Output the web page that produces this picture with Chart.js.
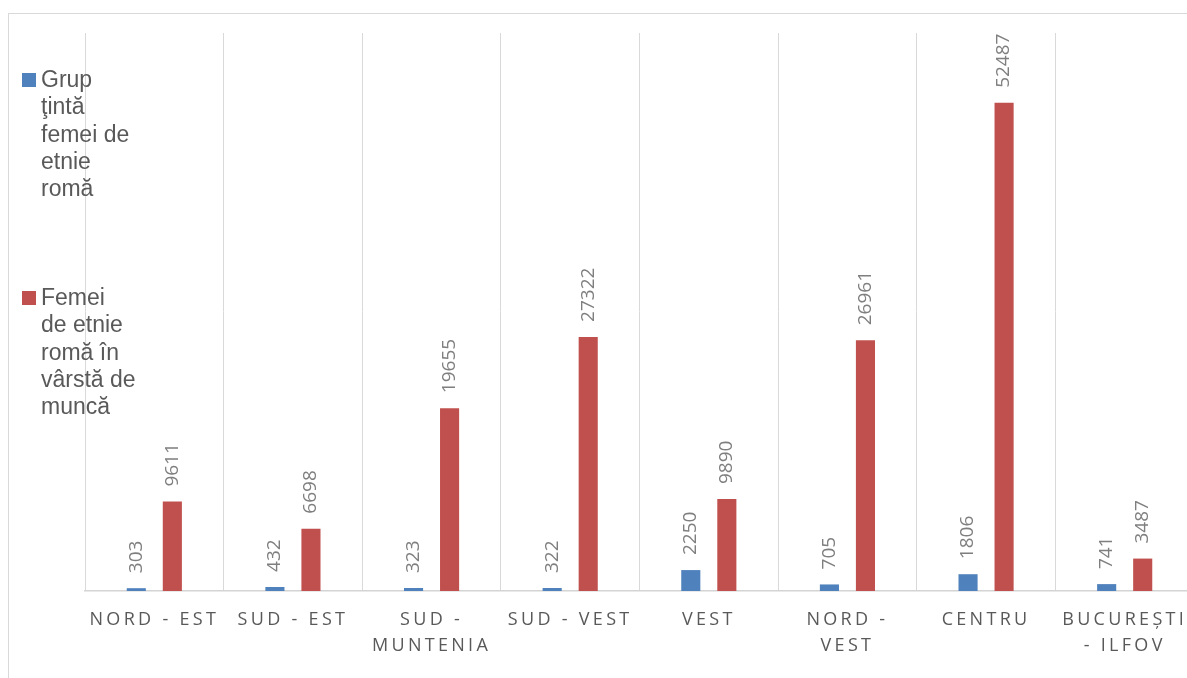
<!DOCTYPE html>
<html lang="ro">
<head>
<meta charset="utf-8">
<title>Femei de etnie romă pe regiuni</title>
<script src="https://cdn.jsdelivr.net/npm/chart.js@4.4.1/dist/chart.umd.min.js"></script>
<style>
  html, body { margin: 0; padding: 0; background: #fff; overflow: hidden; }
  .chart-box {
    position: absolute; left: 8px; top: 13px;
    width: 1200px; height: 680px;
    border: 1px solid #d9d9d9;
  }
</style>
</head>
<body>
<div class="chart-box"><canvas id="regionsChart"></canvas></div>
<script>
// Regions (multi-line labels are split into arrays)
const regions = [
    'NORD - EST', 'SUD - EST', ['SUD -', 'MUNTENIA'], 'SUD - VEST',
    'VEST', ['NORD -', 'VEST'], 'CENTRU', ['BUCUREŞTI', '- ILFOV']
];
const targetGroup = [303, 432, 323, 322, 2250, 705, 1806, 741];
const workingAge = [9611, 6698, 19655, 27322, 9890, 26961, 52487, 3487];
const seriesNames = [
    ['Grup', 'ţintă', 'femei de', 'etnie', 'romă'],
    ['Femei', 'de etnie', 'romă în', 'vârstă de', 'muncă']
];
const seriesColors = ['#4f81bd', '#c0504d'];
const yMax = 60000;

const TEXT_GREY = '#595959';
const LABEL_GREY = '#7f7f7f';

// Spaced-out capitals on the category axis
const axisLetterSpacing = {
    id: 'axisLetterSpacing',
    beforeDraw(chart) {
        chart.ctx.letterSpacing = '3.3px';
    },
    beforeDatasetsDraw(chart) {
        chart.ctx.letterSpacing = '0px';
    }
};

// Vertical value labels above every bar
const barValues = {
    id: 'barValues',
    afterDatasetsDraw(chart) {
        const ctx = chart.ctx;
        ctx.save();
        ctx.font = '19px "Open Sans", sans-serif';
        ctx.fillStyle = LABEL_GREY;
        ctx.textAlign = 'left';
        ctx.textBaseline = 'middle';
        chart.data.datasets.forEach(function(ds, i) {
            const meta = chart.getDatasetMeta(i);
            meta.data.forEach(function(bar, j) {
                ctx.save();
                ctx.translate(bar.x, bar.y - 15);
                ctx.rotate(-Math.PI / 2);
                ctx.fillText(String(ds.data[j]), 0, 0);
                ctx.restore();
            });
        });
        ctx.restore();
    }
};

// Legend on the left, wrapped into a narrow column
const sideLegend = {
    id: 'sideLegend',
    afterDraw(chart) {
        const ctx = chart.ctx;
        const entryTops = [59, 277];
        const box = 14;
        const lineStep = 27.3;
        ctx.save();
        ctx.font = '23px "Liberation Sans", Arial, sans-serif';
        ctx.textAlign = 'left';
        ctx.textBaseline = 'alphabetic';
        chart.data.datasets.forEach(function(ds, i) {
            const top = entryTops[i];
            ctx.fillStyle = ds.backgroundColor;
            ctx.fillRect(13, top, box, box);
            ctx.fillStyle = TEXT_GREY;
            seriesNames[i].forEach(function(line, k) {
                ctx.fillText(line, 32, top + 14 + k * lineStep);
            });
        });
        ctx.restore();
    }
};

new Chart(document.getElementById('regionsChart'), {
    type: 'bar',
    data: {
        labels: regions,
        datasets: [{
            label: seriesNames[0].join(' '),
            data: targetGroup,
            backgroundColor: seriesColors[0]
        }, {
            label: seriesNames[1].join(' '),
            data: workingAge,
            backgroundColor: seriesColors[1]
        }]
    },
    options: {
        responsive: true,
        maintainAspectRatio: false,
        animation: false,
        categoryPercentage: 0.52,
        barPercentage: 0.53,
        layout: {
            padding: { left: 76, top: 19, right: 15, bottom: 0 }
        },
        scales: {
            x: {
                grid: {
                    display: true,
                    offset: true,
                    color: '#d9d9d9',
                    lineWidth: 1,
                    drawTicks: false
                },
                border: { display: true, color: '#d4d4d4', width: 1.5 },
                ticks: {
                    autoSkip: false,
                    maxRotation: 0,
                    padding: 16,
                    color: TEXT_GREY,
                    font: { family: '"Open Sans", sans-serif', size: 18, lineHeight: 1.45 }
                },
                afterFit(scale) {
                    scale.height = 103;
                }
            },
            y: {
                display: false,
                min: 0,
                max: yMax
            }
        },
        plugins: {
            legend: { display: false },
            tooltip: { enabled: false }
        }
    },
    plugins: [axisLetterSpacing, barValues, sideLegend]
});
</script>
</body>
</html>
